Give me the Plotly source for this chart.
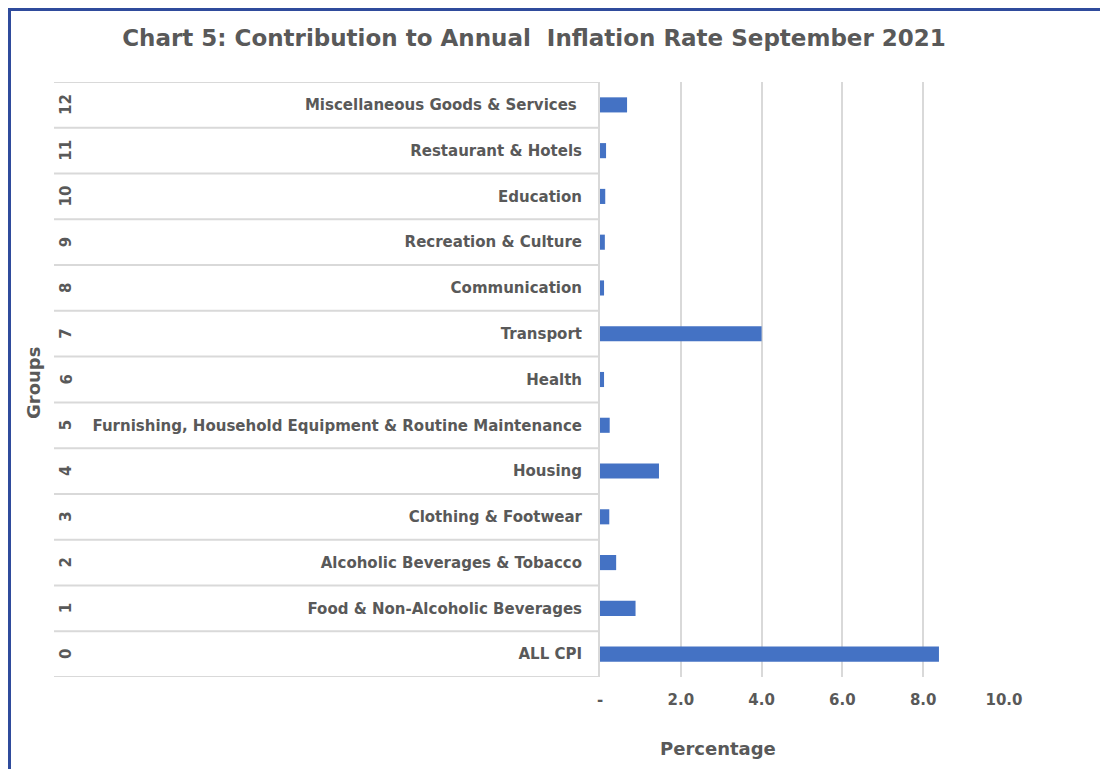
import plotly.graph_objects as go

groups = ["0", "1", "2", "3", "4", "5", "6", "7", "8", "9", "10", "11", "12"]
categories = [
    "ALL CPI",
    "Food & Non-Alcoholic Beverages",
    "Alcoholic Beverages & Tobacco",
    "Clothing & Footwear",
    "Housing",
    "Furnishing, Household Equipment & Routine Maintenance",
    "Health",
    "Transport",
    "Communication",
    "Recreation & Culture",
    "Education",
    "Restaurant & Hotels",
    "Miscellaneous Goods & Services\u00a0",
]
values = [8.39, 0.88, 0.40, 0.23, 1.46, 0.24, 0.10, 4.00, 0.10, 0.12, 0.13, 0.15, 0.67]
x_tickvals = [0, 2, 4, 6, 8, 10]
x_ticktext = ["-", "2.0", "4.0", "6.0", "8.0", "10.0"]

W, H = 1108, 769
OFF = 8  # page offset of the figure inside the browser window
L, R, T, B = 600 - OFF, 1004 - OFF, 82 - OFF, 677 - OFF
TXT = "#595959"
FONT = "DejaVu Sans"


def px_x(p):
    return (p - OFF - L) / (R - L)


def px_y(p):
    return (B - (p - OFF)) / (B - T)


ypos = list(range(len(categories)))

fig = go.Figure()
fig.add_trace(go.Bar(
    x=values, y=ypos, orientation="h",
    marker=dict(color="#4472C4", line=dict(width=0)),
    width=0.33, hoverinfo="x",
))

shapes = []
# row separators of the category table
for i in range(len(categories) + 1):
    shapes.append(dict(type="line", xref="paper", yref="y",
                       x0=px_x(54), x1=0, y0=i - 0.5, y1=i - 0.5,
                       line=dict(color="#D9D9D9", width=2)))
# blue frame
shapes.append(dict(type="line", xref="paper", yref="paper",
                   x0=px_x(9.5), x1=px_x(9.5), y0=px_y(8), y1=px_y(790),
                   line=dict(color="#2F4B9C", width=3)))
shapes.append(dict(type="line", xref="paper", yref="paper",
                   x0=px_x(8), x1=px_x(1130), y0=px_y(9.5), y1=px_y(9.5),
                   line=dict(color="#2F4B9C", width=3)))

annotations = []
for g, y in zip(groups, ypos):
    annotations.append(dict(text=g, xref="paper", yref="y", x=px_x(66), y=y,
                            showarrow=False, textangle=-90,
                            font=dict(family=FONT, size=15, color=TXT, weight="bold"),
                            xanchor="center", yanchor="middle"))
annotations.append(dict(text="Groups", xref="paper", yref="paper", x=px_x(33), y=px_y(383),
                        showarrow=False, textangle=-90,
                        font=dict(family=FONT, size=18, color=TXT, weight="bold"),
                        xanchor="center", yanchor="middle"))
annotations.append(dict(text="Percentage", xref="paper", yref="paper", x=px_x(718), y=px_y(748),
                        showarrow=False,
                        font=dict(family=FONT, size=18, color=TXT, weight="bold"),
                        xanchor="center", yanchor="middle"))

fig.update_layout(
    width=W, height=H,
    margin=dict(l=L, r=W - R, t=T, b=H - B, pad=0),
    paper_bgcolor="white", plot_bgcolor="white",
    showlegend=False,
    title=dict(text="Chart 5: Contribution to Annual  Inflation Rate September 2021",
               x=(534 - OFF) / W, xref="container", xanchor="center",
               y=1 - (38 - OFF) / H, yref="container", yanchor="middle",
               font=dict(family=FONT, size=23, color=TXT, weight="bold")),
    xaxis=dict(range=[0, 10], tickvals=x_tickvals, ticktext=x_ticktext,
               showgrid=True, gridcolor="#D9D9D9", gridwidth=2,
               zeroline=False, showline=False, ticks="",
               ticklabelstandoff=12,
               tickfont=dict(family=FONT, size=15, color=TXT, weight="bold")),
    yaxis=dict(range=[-0.5, 12.5], tickvals=ypos, ticktext=categories,
               showgrid=False, zeroline=False, showline=True,
               linecolor="#D9D9D9", linewidth=2, ticks="",
               ticklabelstandoff=13,
               tickfont=dict(family=FONT, size=15, color=TXT, weight="bold")),
    shapes=shapes, annotations=annotations,
)

fig.write_html("out.html")
